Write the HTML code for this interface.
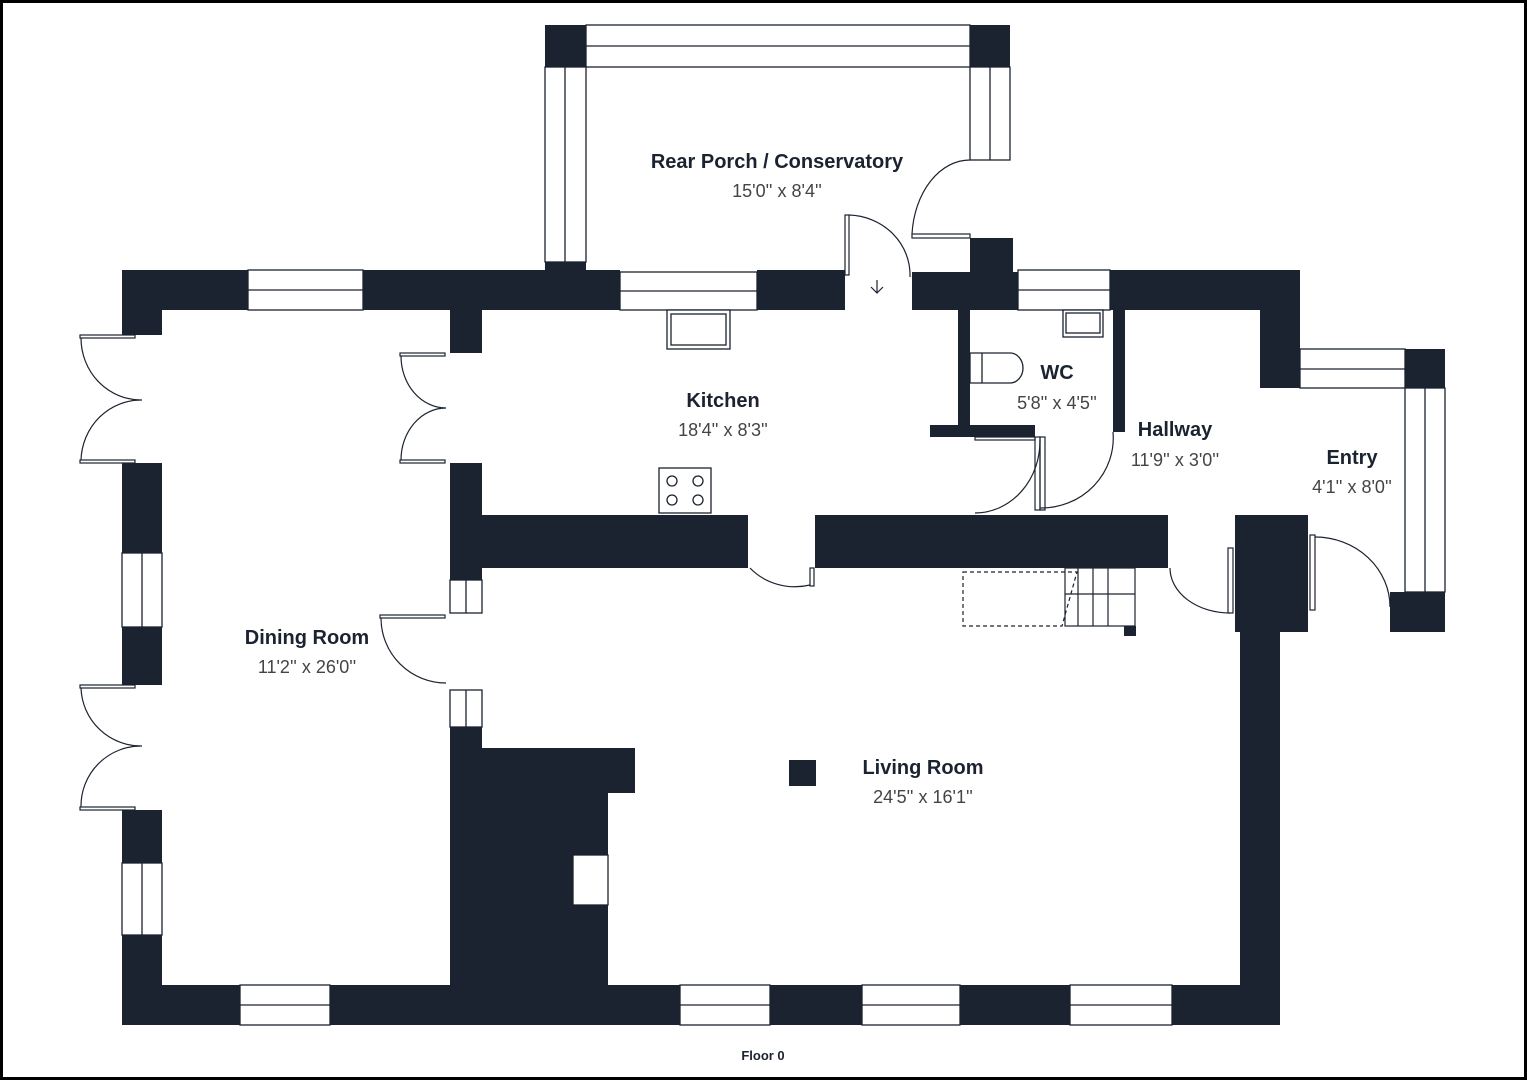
<!DOCTYPE html>
<html><head><meta charset="utf-8"><style>
html,body{margin:0;padding:0;background:#fff}
svg{display:block}
.l{font-family:"Liberation Sans",sans-serif;font-weight:bold;font-size:20px;fill:#1b2330}
.d{font-family:"Liberation Sans",sans-serif;font-size:18px;fill:#444}
</style></head><body>
<svg width="1527" height="1080" viewBox="0 0 1527 1080" xmlns="http://www.w3.org/2000/svg">
<rect x="1.5" y="1.5" width="1524" height="1077" fill="#fff" stroke="#000" stroke-width="3"/>
<g fill="#1b2330">
<!-- conservatory -->
<rect x="545" y="25" width="41" height="42"/><rect x="970" y="25" width="40" height="42"/>
<rect x="545" y="262" width="41" height="12"/>
<!-- top wall -->
<rect x="122" y="270" width="126" height="40"/><rect x="363" y="270" width="257" height="40"/>
<rect x="757" y="270" width="88" height="40"/><rect x="912" y="272" width="106" height="38"/>
<rect x="970" y="238" width="43" height="40"/>
<rect x="1110" y="270" width="190" height="40"/><rect x="1260" y="270" width="40" height="118"/>
<rect x="1405" y="349" width="40" height="39"/>
<!-- left wall -->
<rect x="122" y="270" width="40" height="65"/><rect x="122" y="463" width="40" height="90"/>
<rect x="122" y="627" width="40" height="58"/><rect x="122" y="810" width="40" height="53"/>
<rect x="122" y="935" width="40" height="90"/>
<!-- bottom wall -->
<rect x="122" y="985" width="118" height="40"/><rect x="330" y="985" width="350" height="40"/>
<rect x="770" y="985" width="92" height="40"/><rect x="960" y="985" width="110" height="40"/>
<rect x="1172" y="985" width="108" height="40"/>
<!-- right -->
<rect x="1240" y="515" width="40" height="510"/><rect x="1235" y="515" width="73" height="117"/>
<rect x="1390" y="592" width="55" height="40"/>
<!-- interior -->
<rect x="450" y="515" width="298" height="53"/><rect x="815" y="515" width="353" height="53"/>
<rect x="450" y="310" width="32" height="43"/><rect x="450" y="463" width="32" height="117"/>
<rect x="450" y="727" width="32" height="258"/><rect x="450" y="748" width="158" height="237"/>
<rect x="600" y="748" width="35" height="45"/>
<rect x="958" y="310" width="12" height="115"/><rect x="930" y="425" width="105" height="12"/>
<rect x="1113" y="310" width="12" height="122"/>
<rect x="789" y="760" width="27" height="26"/>
<rect x="1124" y="626" width="12" height="10"/>
</g>
<g fill="#fff" stroke="#1b2330" stroke-width="1.3">
<!-- windows -->
<rect x="586" y="25" width="384" height="42"/><line x1="586" y1="46" x2="970" y2="46"/>
<rect x="545" y="67" width="41" height="195"/><line x1="565" y1="67" x2="565" y2="262"/>
<rect x="970" y="67" width="40" height="93"/><line x1="990" y1="67" x2="990" y2="160"/>
<rect x="248" y="270" width="115" height="40"/><line x1="248" y1="290" x2="363" y2="290"/>
<rect x="620" y="272" width="137" height="38"/><line x1="620" y1="291" x2="757" y2="291"/>
<rect x="1018" y="270" width="92" height="40"/><line x1="1018" y1="290" x2="1110" y2="290"/>
<rect x="1300" y="349" width="105" height="39"/><line x1="1300" y1="369" x2="1405" y2="369"/>
<rect x="1405" y="388" width="40" height="204"/><line x1="1425" y1="388" x2="1425" y2="592"/>
<rect x="122" y="553" width="40" height="74"/><line x1="142" y1="553" x2="142" y2="627"/>
<rect x="122" y="863" width="40" height="72"/><line x1="142" y1="863" x2="142" y2="935"/>
<rect x="240" y="985" width="90" height="40"/><line x1="240" y1="1005" x2="330" y2="1005"/>
<rect x="680" y="985" width="90" height="40"/><line x1="680" y1="1005" x2="770" y2="1005"/>
<rect x="862" y="985" width="98" height="40"/><line x1="862" y1="1005" x2="960" y2="1005"/>
<rect x="1070" y="985" width="102" height="40"/><line x1="1070" y1="1005" x2="1172" y2="1005"/>
<rect x="450" y="580" width="32" height="33"/><line x1="466" y1="580" x2="466" y2="613"/>
<rect x="450" y="690" width="32" height="37"/><line x1="466" y1="690" x2="466" y2="727"/>
<rect x="573" y="855" width="35" height="50"/>
<!-- fixtures -->
<rect x="667" y="310" width="63" height="39"/><rect x="671" y="314" width="55" height="31"/>
<rect x="1063" y="310" width="40" height="27"/><rect x="1066" y="313" width="34" height="20"/>
<rect x="659" y="468" width="52" height="45"/>
<circle cx="672" cy="481" r="5"/><circle cx="698" cy="481" r="5"/><circle cx="672" cy="500" r="5"/><circle cx="698" cy="500" r="5"/>
<path d="M970 353 H1010 A13 15 0 0 1 1010 383 H970 Z"/><line x1="982" y1="353" x2="982" y2="383"/>
</g>
<g fill="none" stroke="#1b2330" stroke-width="1.2">
<!-- doors -->
<rect x="80" y="335" width="55" height="3"/><rect x="80" y="460" width="55" height="3"/>
<path d="M81 338 A60 62 0 0 0 142 400 M81 460 A60 62 0 0 1 142 400"/>
<rect x="80" y="685" width="55" height="3"/><rect x="80" y="807" width="55" height="3"/>
<path d="M81 688 A60 60 0 0 0 142 746 M81 807 A60 60 0 0 1 142 746"/>
<rect x="400" y="353" width="45" height="3"/><rect x="400" y="460" width="45" height="3"/>
<path d="M401 356 A45 52 0 0 0 446 408 M401 460 A45 52 0 0 1 446 408"/>
<rect x="380" y="615" width="65" height="3"/><path d="M381 618 A65 65 0 0 0 446 683"/>
<rect x="845" y="215" width="4" height="60"/><path d="M849 215 A63 60 0 0 1 910 277"/>
<path d="M877 280 V293 M871 287 L877 293 L883 287"/>
<rect x="912" y="234" width="58" height="4"/><path d="M912 234 A58 80 0 0 1 970 160"/>
<rect x="975" y="437" width="60" height="3"/><rect x="1035" y="437" width="5" height="73"/><rect x="1040" y="437" width="5" height="73"/>
<path d="M975 513 A65 72 0 0 0 1040 440 M1040 508 A72 70 0 0 0 1113 432"/>
<path d="M750 568 A60 55 0 0 0 810 585"/><rect x="810" y="568" width="4" height="18"/>
<path d="M1170 568 A60 45 0 0 0 1230 613"/><rect x="1228" y="548" width="5" height="65"/>
<rect x="1310" y="535" width="5" height="75"/><path d="M1315 537 A75 70 0 0 1 1390 607"/>
<!-- stairs -->
<rect x="1065" y="568" width="70" height="58"/>
<path d="M1078 568 V626 M1093 568 V626 M1108 568 V626 M1065 594 H1135"/>
<path d="M963 572 H1077 L1062 626 H963 Z" stroke-dasharray="4 3"/>
</g>
<text x="777" y="168" text-anchor="middle" class="l">Rear Porch / Conservatory</text>
<text x="777" y="197" text-anchor="middle" class="d">15'0'' x 8'4''</text>
<text x="723" y="407" text-anchor="middle" class="l">Kitchen</text>
<text x="723" y="436" text-anchor="middle" class="d">18'4'' x 8'3''</text>
<text x="1057" y="379" text-anchor="middle" class="l">WC</text>
<text x="1057" y="409" text-anchor="middle" class="d">5'8'' x 4'5''</text>
<text x="1175" y="436" text-anchor="middle" class="l">Hallway</text>
<text x="1175" y="466" text-anchor="middle" class="d">11'9'' x 3'0''</text>
<text x="1352" y="464" text-anchor="middle" class="l">Entry</text>
<text x="1352" y="493" text-anchor="middle" class="d">4'1'' x 8'0''</text>
<text x="307" y="644" text-anchor="middle" class="l">Dining Room</text>
<text x="307" y="673" text-anchor="middle" class="d">11'2'' x 26'0''</text>
<text x="923" y="774" text-anchor="middle" class="l">Living Room</text>
<text x="923" y="803" text-anchor="middle" class="d">24'5'' x 16'1''</text>
<text x="763" y="1060" text-anchor="middle" font-family="Liberation Sans,sans-serif" font-weight="bold" font-size="13" fill="#1b2330">Floor 0</text>
</svg>
</body></html>
